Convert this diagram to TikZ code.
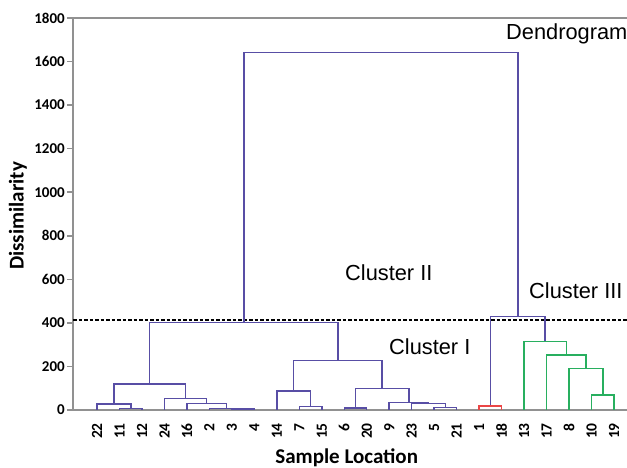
\documentclass[tikz,border=0pt]{standalone}
\usepackage{fontspec}
\setmainfont{Liberation Sans}
\newfontfamily\axisfont{Carlito}
\usetikzlibrary{positioning}
\definecolor{dendblue}{RGB}{88,78,165}
\definecolor{dendgreen}{RGB}{40,175,95}
\definecolor{dendred}{RGB}{235,70,70}
\definecolor{axisgray}{RGB}{145,145,145}
\tikzset{
  link/.style       = {draw=dendblue, line width=1.5pt},
  link green/.style = {link, draw=dendgreen},
  link red/.style   = {link, draw=dendred},
  axisline/.style   = {draw=axisgray, line width=1.5pt},
  ticklabel/.style  = {font=\axisfont\bfseries\fontsize{15}{15}\selectfont,
                       anchor=east, inner sep=0pt},
  leaflabel/.style  = {font=\axisfont\bfseries\fontsize{15.5}{15.5}\selectfont,
                       rotate=90, anchor=east, inner sep=0pt},
  axistitle/.style  = {font=\axisfont\bfseries\fontsize{21}{21}\selectfont},
  cluster/.style    = {font=\fontsize{21.8}{21.8}\selectfont, anchor=west,
                       inner sep=0pt}
}

\begin{document}
\begin{tikzpicture}[x=1pt, y=1pt]
\clip (0,0) rectangle (627,468);

% frame and axis
\coordinate (origin) at (73,58);
\coordinate (ytop) at (73,450);
\coordinate (xend) at (627,58);
\coordinate (tend) at (627,450);
\draw[axisline] (tend) -- (ytop) -- (origin) -- (xend);
\foreach \v [count=\k from 0] in {0,200,...,1800} {
  \coordinate (tick\k) at (73,{58+\k*43.556});
  \draw[axisline] (tick\k) -- ++(-6,0) node[ticklabel, xshift=-1.5pt] (yl\k) {\v};
}

% cut level
\coordinate (cut) at (73,148);
\coordinate (cutend) at (627,148);
\draw[line width=1.3pt, dash pattern=on 3.5pt off 2pt] (cut) -- (cutend);

% samples along the axis
\foreach \lab [count=\i] in {22,11,12,24,16,2,3,4,14,7,15,6,20,9,23,5,21,1,18,13,17,8,10,19} {
  \coordinate (s\i) at ({97+(\i-1)*22.478},58);
  \node[leaflabel] (n\i) at ({97+(\i-1)*22.478},45) {\lab};
}

% merge points
\coordinate (m1)  at (130.75,59.6);
\coordinate (m2)  at (113.9,64);
\coordinate (m3)  at (243.15,58.9);
\coordinate (m4)  at (226.3,59.6);
\coordinate (m5)  at (206.6,64.3);
\coordinate (m6)  at (185.5,69.7);
\coordinate (m7)  at (149.7,84);
\coordinate (m8)  at (310.55,61.3);
\coordinate (m9)  at (293.7,77);
\coordinate (m10) at (355.55,59.9);
\coordinate (m11) at (445.45,60.7);
\coordinate (m12) at (428.6,64.7);
\coordinate (m13) at (408.9,65.7);
\coordinate (m14) at (382.2,79.3);
\coordinate (m15) at (337.9,107.5);
\coordinate (m16) at (243.8,145.7);
\coordinate (m17) at (490.4,62);
\coordinate (m18) at (602.8,73);
\coordinate (m19) at (586,99.7);
\coordinate (m20) at (566.3,113);
\coordinate (m21) at (545.2,126.7);
\coordinate (m22) at (517.8,151.3);
\coordinate (m23) at (380.8,415.3);

% links
\foreach \a/\m/\b in {s2/m1/s3, s1/m2/m1, s7/m3/s8, s6/m4/m3, s5/m5/m4,
    s4/m6/m5, m2/m7/m6, s10/m8/s11, s9/m9/m8, s12/m10/s13, s16/m11/s17,
    s15/m12/m11, s14/m13/m12, m10/m14/m13, m9/m15/m14, m7/m16/m15,
    m17/m22/m21, m16/m23/m22}
  \draw[link] (\a) |- (\m) -| (\b);
\draw[link red] (s18) |- (m17) -| (s19);
\foreach \a/\m/\b in {s23/m18/s24, s22/m19/m18, s21/m20/m19, s20/m21/m20}
  \draw[link green] (\a) |- (\m) -| (\b);

% texts
\node[cluster] (dendro) at (506,434) {Dendrogram};
\node[cluster] (clusterII) at (345,195) {Cluster II};
\node[cluster] (clusterIII) at (529,177.3) {Cluster III};
\node[cluster] (clusterI) at (389,121.3) {Cluster I};
\node[axistitle, rotate=90] (ylab) at (18,252) {Dissimilarity};
\node[axistitle] (xlab) at (346.7,10) {Sample Location};
\end{tikzpicture}
\end{document}
